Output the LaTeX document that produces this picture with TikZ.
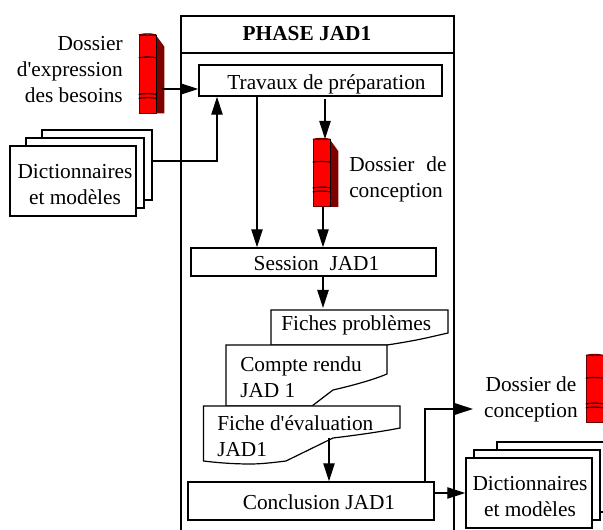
\documentclass[tikz,border=0pt]{standalone}
\usepackage{fontspec}
\setmainfont{Liberation Serif}
\usepackage{tikz}
\usetikzlibrary{arrows.meta}
\tikzset{
  every node/.style={font=\fontsize{16}{19.5}\selectfont, inner sep=0pt},
  box/.style={draw, line width=1.1pt, fill=white},
  boxtext/.style={text height=13pt, text depth=0pt},
  frameline/.style={draw, line width=1.1pt},
  doc/.style={draw, line width=0.9pt, fill=white},
  flow/.style={line width=0.9pt, -{Triangle[length=13.5pt,width=8.5pt]}},
  book/.style={draw=red!40!black, line width=0.5pt, fill=red, minimum width=12.75pt, minimum height=58.5pt},
  band/.style={line width=0.8pt}
}
% spine and bands of a dossier
\newcommand{\bookdetail}[1]{
  \fill[red!50!black] ([shift={(0,1)}]#1.north east) -- ([shift={(8,12)}]#1.north east) -- ([shift={(8,0)}]#1.south east) -- (#1.south east) -- cycle;
  \draw[draw=red!40!black, line width=0.5pt, fill=red] (#1.north west) to[bend left=12] (#1.north east) -- cycle;
  \draw[line width=0.8pt] (#1.north east) -- (#1.south east);
  \draw[band] ([shift={(0,23)}]#1.north west) to[bend left=8] ([shift={(0,23)}]#1.north east);
  \draw[band] ([shift={(0,-19)}]#1.south west) to[bend left=8] ([shift={(0,-19)}]#1.south east);
  \draw[band] ([shift={(0,-15)}]#1.south west) to[bend left=8] ([shift={(0,-15)}]#1.south east);
}
\begin{document}
\begin{tikzpicture}[x=0.75pt, y=-0.75pt]
    \useasboundingbox (0,0) rectangle (603,530);
    \clip (0,0) rectangle (603,530);

    % Phase frame
    \draw[frameline] (181,530) -- (181,16) -- (454,16) -- (454,530);
    \draw[frameline] (181,53) -- (454,53);
    \node[font=\fontsize{16}{19.5}\selectfont\bfseries] (title) at (307,34) {PHASE JAD1};

    % Boxes
    \node[box, boxtext, minimum width=182.25pt, minimum height=23.25pt] (travaux) at (320.5,80.5) {\hspace*{9pt}Travaux de préparation};
    \node[box, boxtext, minimum width=183.75pt, minimum height=21pt] (session) at (313.5,262) {\hspace*{4.5pt}Session\ \ JAD1};

    % Dossier d'expression
    \node[book] (dossierA) at (147.5,74) {};
    \bookdetail{dossierA}
    \node[anchor=east, align=right] (expression) at (123,70) {Dossier\\d\textquotesingle expression\\des besoins};

    % Dictionnaires input
    \node[box, minimum width=82.5pt, minimum height=52.5pt] (dicoC) at (97,165) {};
    \node[box, minimum width=88.5pt, minimum height=52.5pt] (dicoB) at (85,173) {};
    \node[box, minimum width=94.5pt, minimum height=52.5pt, align=center] (dicoA) at (73,181) {\rule{0pt}{16pt}\hspace*{3pt}Dictionnaires\\\hspace*{3pt}et modèles};

    % Dossier de conception
    \node[book, minimum height=50.25pt] (dossierB) at (321.5,173) {};
    \bookdetail{dossierB}
    \node[anchor=west, align=left] (conception) at (349,179) {Dossier\hspace{9pt}de\\conception};

    % Documents of the session
    \draw[doc] (271,345) -- (271,310) -- (448,310) -- (448,333) .. controls (430,337) and (420,340) .. (387,345) -- cycle;
    \node[anchor=base west] (fiches) at (281,331) {Fiches problèmes};
    \draw[doc] (312,406) -- (226,406) -- (226,345) -- (387,345) -- (387,374) .. controls (370,381) and (350,386) .. (333,390) -- cycle;
    \node[anchor=west, align=left] (compte) at (240,377) {Compte rendu\\JAD 1};
    \draw[doc] (203.5,406) -- (400,406) -- (400,428) .. controls (380,432) and (350,436) .. (333,438) -- (286,461) .. controls (270,463) and (260,464) .. (250,464) .. controls (235,464) and (220,463) .. (203.5,461) -- cycle;
    \node[anchor=west, align=left] (fiche) at (217,436) {Fiche d\textquotesingle évaluation\\JAD1};

    % Conclusion
    \node[box, boxtext, minimum width=184.5pt, minimum height=28.5pt] (conclusion) at (311,501) {\hspace*{12pt}Conclusion JAD1};

    % Outputs
    \node[anchor=east, align=center] (sortie) at (578,399) {Dossier de\\conception};
    \node[book, minimum height=50.25pt] (dossierC) at (594.5,389) {};
    \bookdetail{dossierC}
    \node[box, minimum width=105pt, minimum height=52.5pt] (dicoF) at (567,477) {};
    \node[box, minimum width=94.5pt, minimum height=52.5pt] (dicoE) at (537,485) {};
    \node[box, minimum width=94.5pt, minimum height=52.5pt, align=center] (dicoD) at (529,493) {\rule{0pt}{16pt}\hspace*{1.5pt}Dictionnaires\\\hspace*{1.5pt}et modèles};

    % Free ends
    \coordinate (bookOut) at (162,89);
    \coordinate (dicoOut) at (217,161);
    \coordinate (travauxA) at (257,96);
    \coordinate (travauxB) at (325,99);
    \coordinate (bookIn) at (325,139);
    \coordinate (bookDown) at (323,207);
    \coordinate (fichesIn) at (323,308);
    \coordinate (ficheOut) at (329,438);
    \coordinate (conclOut) at (425,409);
    \coordinate (sortieIn) at (473,409);

    % Arrows
    \draw[flow] (bookOut) -- (travaux.west |- bookOut);
    \draw[flow] (dicoC.east |- dicoOut) -- (dicoOut) -- (travaux.south -| dicoOut);
    \draw[flow] (travauxA) -- (session.north -| travauxA);
    \draw[flow] (travauxB) -- (bookIn);
    \draw[flow] (bookDown) -- (session.north -| bookDown);
    \draw[flow] (session.south -| fichesIn) -- (fichesIn);
    \draw[flow] (ficheOut) -- (conclusion.north -| ficheOut);
    \draw[flow] (conclusion.north -| conclOut) -- (conclOut) -- (sortieIn);
    \draw[flow] (conclusion.east |- dicoD.west) -- (dicoD.west);
  \end{tikzpicture}
\end{document}
